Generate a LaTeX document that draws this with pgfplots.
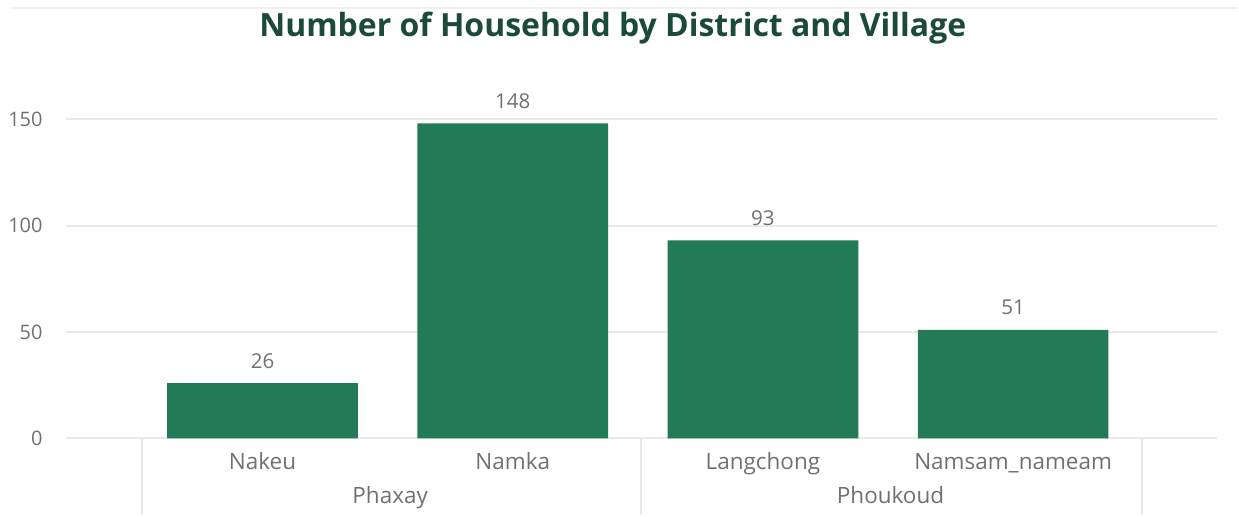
\documentclass[border=0pt]{standalone}
\usepackage{fontspec}
\setmainfont{Open Sans}
\usepackage{pgfplots}
\pgfplotsset{compat=1.18}
\definecolor{BarG}{HTML}{237A57}
\definecolor{TitleG}{HTML}{1C4A3A}
\definecolor{TickG}{HTML}{707070}
\definecolor{GridG}{HTML}{E9E9E9}
\tikzset{lab/.style={TickG, font=\fontsize{9}{10}\selectfont, text height=0.72em, text depth=0.22em}}
\begin{document}
\begin{tikzpicture}
\begin{axis}[
  scale only axis, width=461.2pt, height=136.4pt,
  xmin=-0.786, xmax=3.816, ymin=0, ymax=160,
  axis lines=none,
  ytick={0,50,100,150},
  xtick={0,1,2,3},
  clip=false,
  /pgf/number format/assume math mode=true,
]
% grid lines
\pgfplotsinvokeforeach{0,50,100,150}{
  \draw[GridG, line width=0.8pt] (axis cs:-0.786,#1) -- (axis cs:3.816,#1);
  \node[anchor=east, TickG, font=\fontsize{8}{9}\selectfont] at ([xshift=-5.8pt]axis cs:-0.786,#1) {#1};
}
\addplot[ybar, bar width=0.762, fill=BarG, draw=none,
  nodes near coords, every node near coord/.append style={TickG, font=\fontsize{8.2}{9}\selectfont, yshift=2.4pt}]
  coordinates {(0,26) (1,148) (2,93) (3,51)};
% hierarchical axis
\pgfplotsinvokeforeach{-0.483,1.513,3.517}{
  \draw[GridG, line width=0.8pt] (axis cs:#1,0) -- ([yshift=-30.8pt]axis cs:#1,0);
}
\node[lab] at ([yshift=-10pt]axis cs:0,0) {Nakeu};
\node[lab] at ([yshift=-10pt]axis cs:1,0) {Namka};
\node[lab] at ([yshift=-10pt]axis cs:2,0) {Langchong};
\node[lab] at ([yshift=-10pt]axis cs:3,0) {Namsam\_nameam};
\node[lab] at ([yshift=-23.4pt]axis cs:0.51,0) {Phaxay};
\node[lab] at ([yshift=-23.4pt]axis cs:2.51,0) {Phoukoud};
% title
\node[TitleG, font=\fontsize{12.8}{15}\bfseries\selectfont] at ([yshift=28pt]rel axis cs:0.475,1) {Number of Household by District and Village};
% faint band at top
\draw[GridG!70, line width=0.6pt] ([xshift=-22pt,yshift=36pt]rel axis cs:0,1) -- ([xshift=8.4pt,yshift=36pt]rel axis cs:1,1);
% bounding box
\path ([xshift=-26pt,yshift=39.2pt]rel axis cs:0,1) rectangle ([xshift=8.4pt,yshift=-30.8pt]rel axis cs:1,0);
\end{axis}
\end{tikzpicture}
\end{document}
